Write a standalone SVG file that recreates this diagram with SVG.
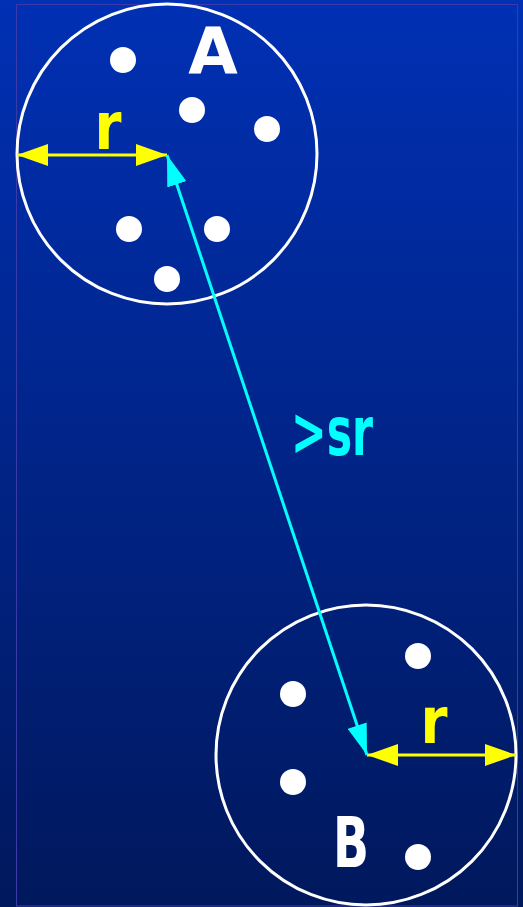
<svg xmlns="http://www.w3.org/2000/svg" width="523" height="907" viewBox="0 0 523 907">
<style>
.ring{fill:none;stroke:#ffffff;stroke-width:3}
.dot{fill:#ffffff}
.lbl{font-family:"DejaVu Sans",sans-serif;font-weight:bold;text-anchor:middle}
.yl{stroke:#ffff00;stroke-width:3;fill:none}
.cy{stroke:#00ffff;stroke-width:3;fill:none}
</style>
<defs>
<linearGradient id="bg" x1="0" y1="0" x2="0" y2="1">
<stop offset="0" stop-color="#0030b4"/>
<stop offset="1" stop-color="#00185c"/>
</linearGradient>
<marker id="ya" viewBox="0 0 31 22" refX="31" refY="11" markerWidth="31" markerHeight="22" markerUnits="userSpaceOnUse" orient="auto-start-reverse">
<path d="M0,0 L31,11 L0,22 Z" fill="#ffff00"/>
</marker>
<marker id="ca" viewBox="0 0 31 20" refX="31" refY="10" markerWidth="31" markerHeight="20" markerUnits="userSpaceOnUse" orient="auto-start-reverse">
<path d="M0,0 L31,10 L0,20 Z" fill="#00ffff"/>
</marker>
</defs>
<rect x="0" y="0" width="523" height="907" fill="url(#bg)"/>
<rect x="16.5" y="4.5" width="501" height="901.5" fill="none" stroke="#3a3aa8" stroke-width="1"/>
<g id="clusterA">
<circle class="ring" cx="167" cy="154" r="150"/>
<circle class="dot" cx="123" cy="60" r="13"/>
<circle class="dot" cx="192" cy="110" r="13"/>
<circle class="dot" cx="267" cy="129" r="13"/>
<circle class="dot" cx="129" cy="229" r="13"/>
<circle class="dot" cx="217" cy="229" r="13"/>
<circle class="dot" cx="167" cy="279" r="13"/>
<text class="lbl" x="213" y="74" font-size="64" fill="#ffffff">A</text>
</g>
<g id="clusterB">
<circle class="ring" cx="366" cy="755" r="150"/>
<circle class="dot" cx="418" cy="656" r="13"/>
<circle class="dot" cx="293" cy="694" r="13"/>
<circle class="dot" cx="293" cy="782" r="13"/>
<circle class="dot" cx="418" cy="857" r="13"/>
<text class="lbl" x="351" y="867" font-size="70" fill="#ffffff" textLength="36" lengthAdjust="spacingAndGlyphs">B</text>
</g>
<g id="connectors">
<line class="yl" x1="17" y1="155" x2="167" y2="155" marker-start="url(#ya)" marker-end="url(#ya)"/>
<line class="yl" x1="367" y1="755" x2="516" y2="755" marker-start="url(#ya)" marker-end="url(#ya)"/>
<line class="cy" x1="167" y1="155" x2="367" y2="755" marker-start="url(#ca)" marker-end="url(#ca)"/>
</g>
<g id="labels">
<text class="lbl" x="108" y="149" font-size="66" fill="#ffff00" textLength="27" lengthAdjust="spacingAndGlyphs">r</text>
<text class="lbl" x="434" y="743" font-size="64" fill="#ffff00" textLength="27" lengthAdjust="spacingAndGlyphs">r</text>
<text class="lbl" x="332" y="455" font-size="68" fill="#00ffff" textLength="82" lengthAdjust="spacingAndGlyphs">&gt;sr</text>
</g>
</svg>
